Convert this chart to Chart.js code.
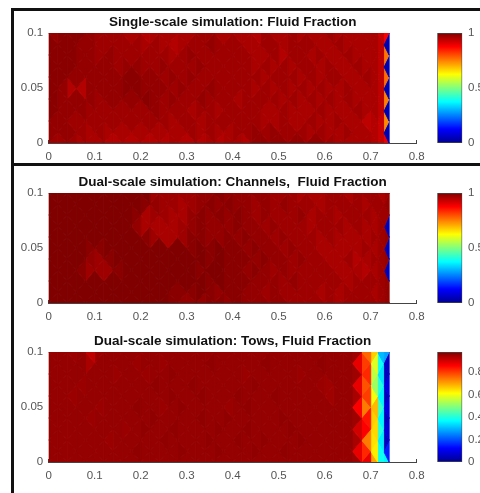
<!DOCTYPE html>
<html>
<head>
<meta charset="utf-8">
<title>Fluid fraction</title>
<script src="https://cdn.jsdelivr.net/npm/chart.js@4"></script>
<style>
    html, body { margin: 0; padding: 0; width: 480px; height: 493px; overflow: hidden; background: #fff; }
    #page { position: absolute; left: 0; top: 0; width: 480px; height: 493px; overflow: hidden; filter: blur(0.65px); }
    #page canvas { position: absolute; }
    .rule { position: absolute; background: #111; }
</style>
</head>
<body>
<div id="page">
    <div class="rule" style="left:11px;top:8px;width:469px;height:3px"></div>
    <div class="rule" style="left:11px;top:8px;width:3px;height:485px"></div>
    <div class="rule" style="left:11px;top:163px;width:469px;height:3px"></div>
    <canvas id="mesh1" style="left:0;top:10px"></canvas>
    <canvas id="bar1" style="left:430px;top:10px"></canvas>
    <canvas id="mesh2" style="left:0;top:169.5px"></canvas>
    <canvas id="bar2" style="left:430px;top:169.5px"></canvas>
    <canvas id="mesh3" style="left:0;top:329px"></canvas>
    <canvas id="bar3" style="left:430px;top:329px"></canvas>
</div>
<script>
// Axis ticks
const xTicks = [0, 0.1, 0.2, 0.3, 0.4, 0.5, 0.6, 0.7, 0.8];
const yTicks = [0, 0.05, 0.1];
const barTicksFull = [0, 0.5, 1];
const barTicksTows = [0, 0.2, 0.4, 0.6, 0.8];

// Mesh: vertical lines, then the two staggered sets of nodes along them
const xEdges = [0, 0.02, 0.04, 0.06, 0.08, 0.1, 0.12, 0.14, 0.16, 0.18, 0.2, 0.22, 0.24, 0.26, 0.28, 0.3, 0.32, 0.34,
    0.36, 0.38, 0.4, 0.42, 0.44, 0.46, 0.48, 0.5, 0.52, 0.54, 0.56, 0.58, 0.6, 0.62, 0.64, 0.66, 0.68, 0.7];
const tailSingle = [0.715, 0.728, 0.74];
const tailChannels = [0.715, 0.73, 0.74];
const tailTows = [0.715, 0.728, 0.74];
const evenNodes = [0, 0.02, 0.04, 0.06, 0.08, 0.1];
const oddNodes = [0, 0.01, 0.03, 0.05, 0.07, 0.09, 0.1];

// Fluid fraction in percent, top row first, one value per triangle per strip
const singleFluid = [
    [98,99,99,99,98,97,97,97,96,96, 95,96,96,96,96,96,97,97,96,96, 96,96,95,97,96,96,97,96,96,96, 97,96,96,96,96,96,93,88],
    [99,99,99,98,98,97,97,97,97,97, 96,97,96,95,96,97,97,98,97,97, 97,96,96,97,97,96,97,97,97,96, 96,97,96,96,96,96,94,4],
    [99,99,99,98,98,97,98,97,97,97, 97,97,97,96,97,98,97,97,97,97, 97,97,96,96,97,95,97,97,96,97, 96,96,97,96,96,96,94,76],
    [99,99,99,98,98,98,98,97,98,98, 97,97,98,97,97,97,98,97,97,97, 97,97,96,97,96,97,96,97,97,96, 97,96,96,97,96,96,94,4],
    [99,99,98,98,98,98,98,98,99,99, 98,98,97,98,97,98,97,97,97,97, 97,97,97,96,97,97,97,96,97,96, 97,97,96,96,97,96,94,77],
    [99,98,95,95,98,98,98,98,99,99, 98,98,98,97,98,97,97,98,97,97, 97,97,96,97,96,97,96,97,96,97, 96,96,97,96,96,96,94,4],
    [99,98,98,98,98,97,98,98,98,98, 99,98,97,98,97,97,98,97,97,97, 96,97,97,97,97,96,97,96,97,96, 97,96,97,96,96,96,94,75],
    [99,98,98,98,97,97,97,97,97,97, 97,98,97,97,97,96,97,97,96,97, 97,97,97,96,96,97,96,96,96,97, 96,96,96,97,96,96,94,4],
    [98,98,97,97,97,97,97,97,97,97, 97,97,97,96,97,97,96,97,97,97, 97,97,97,96,96,97,96,96,97,96, 96,97,96,96,94,95,93,74],
    [98,98,98,97,96,97,96,96,96,96, 96,96,96,96,96,97,96,97,96,96, 97,97,98,97,98,97,97,97,96,97, 96,96,97,96,96,95,93,4],
    [97,97,97,96,96,96,95,95,95,95, 95,95,95,96,95,95,95,96,95,96, 96,95,98,98,98,98,98,98,98,98, 97,96,96,96,96,95,93,89]
];
const channelFluid = [
    [100,100,100,100,100,100,100,100,100,100, 100,97,97,97,97,97,98,98,99,98, 98,98,98,98,97,97,97,96,96,96, 97,97,96,97,97,97,96,97],
    [100,100,100,100,100,100,100,100,100,100, 99,98,97,97,96,97,98,99,98,99, 98,98,97,98,97,98,97,97,97,96, 97,97,97,97,96,97,97,98],
    [100,100,100,100,100,100,100,100,100,99, 96,97,97,96,96,98,99,98,99,98, 99,98,97,98,97,97,97,98,96,97, 97,96,97,97,97,96,97,97],
    [100,100,100,100,100,100,100,100,100,98, 96,96,96,96,97,98,99,98,98,98, 99,98,98,97,98,97,97,97,96,97, 97,97,96,97,96,96,97,5],
    [100,100,100,100,100,100,100,100,100,100, 99,97,96,96,97,99,99,98,98,99, 98,99,98,98,97,98,97,97,97,96, 97,96,96,96,96,97,97,98],
    [100,100,100,100,99,99,100,100,100,100, 100,100,100,100,100,99,100,99,100,99, 99,98,99,98,98,97,98,97,97,96, 96,96,96,96,97,96,97,5],
    [100,100,100,100,98,97,99,100,100,100, 100,100,100,100,100,100,100,99,100,99, 99,99,98,99,98,98,97,98,97,97, 96,96,97,95,96,97,97,98],
    [100,100,100,99,97,97,97,99,100,100, 100,100,100,100,100,100,99,100,100,99, 99,98,99,98,97,98,97,97,97,97, 97,96,96,96,95,96,97,5],
    [100,100,100,100,100,100,100,100,100,100, 100,100,100,100,100,100,100,99,100,99, 99,99,98,98,98,97,98,97,97,97, 97,97,96,97,97,97,97,98],
    [100,100,100,100,100,100,100,100,100,100, 100,100,100,99,99,99,100,99,98,99, 99,98,98,97,98,97,97,97,97,96, 97,96,97,97,97,96,97,98],
    [100,100,100,100,100,100,100,100,100,100, 100,100,100,99,98,98,98,99,99,98, 99,98,98,98,98,98,97,97,97,97, 97,96,97,97,97,97,97,98]
];
const towFluid = [
    [96,96,95.5,96,92,95.5,96,96,96,96, 96,96,96,96,96,96,96,96,96,96, 96,96,96,96,96,96,96,96,96,96, 96,96,96, 95,76,66,30,28],
    [96,96,96,96,94,96,96,96,96,95.5, 96,96,95.5,96,96,96,96,96.5,96,96, 96,96,96,96.5,96,96,96,96,96,96.5, 96,96,96, 88,80,58,38,6],
    [96,96,96,96,96,96,96,95.5,96,96, 95.5,96,96,96.5,96,96,96,96,96,96, 96,95.5,96,96,96,96,96,95.5,96,96, 96,96,96, 95,82,55,34,5],
    [96,96,96,95.5,96,96,96,96,96,96, 96,96.5,96,96,96,96.5,96,96,96,96, 96,96,96.5,96,96,96,96,96,96,95.5, 95,96,96, 88,78,52,40,9],
    [96,96,95.5,96,96,96,96,96,96,96, 96,96,96,96.5,96,96,96.5,96,96,96, 96.5,96,96,96,96.5,96,96,96,96,96, 95,96,96, 94,80,60,36,5],
    [96,96,96,96,96,95.5,96,96,96,96.5, 96,96,95.5,96,96.5,96,96,96,96,95.5, 96,96.5,96,96,96,96,96,96,96,96, 96,96,96, 86,74,68,42,9],
    [96,96,96,96,95.5,96,96,96,96,96, 96,96.5,96,96,96,96,96.5,96,96,96.5, 96,96,96,96,96,96.5,96,96,96,96, 96,96,96, 95,84,66,36,5],
    [96,96,96,96,96,96,96,96,95.5,96, 96.5,96,96,96.5,96,96,96,96,96.5,96, 96,96.5,96,96,96,96,96.5,96,96,96, 96,96,96, 90,86,65,40,8],
    [96,96,96,96,96,96,95.5,96,96,96, 96,96,96.5,96,96,96,96,96.5,96,96, 96.5,96,96,96.5,96,96,96,96.5,96,96, 96,96,96, 94,74,64,35,5],
    [96,96,96,96,96,96,96,96,96,96.5, 96,96,96,96,96.5,96,96,96,96.5,96, 96,96,96.5,96,96,96.5,96,96,96,96, 96,96,96, 88,82,63,38,15],
    [96,96,96,96,96,96,96,96,96,96, 96,96,96,96,96,96,96,96,96,96, 96,96,96,96,96,96,96,96,96,96, 96,96,96, 95,88,70,38,36]
];

// Colorbar limits
const barMaxFull = 1;
const barMaxTows = 0.98;

// Jet colormap stops
const jetPositions = [0, 0.125, 0.375, 0.625, 0.875, 1];
const jetColors = [[0, 0, 143], [0, 0, 255], [0, 255, 255], [255, 255, 0], [255, 0, 0], [128, 0, 0]];

const fontFamily = "'Liberation Sans', Arial, sans-serif";
const tickColor = '#555';
const axisColor = '#444';

function jet(v) {
    const t = Math.max(0, Math.min(1, v));
    let i = 0;
    while (i < jetPositions.length - 2 && t > jetPositions[i + 1]) i++;
    const f = (t - jetPositions[i]) / (jetPositions[i + 1] - jetPositions[i]);
    const c = jetColors[i].map((a, n) => Math.round(a + (jetColors[i + 1][n] - a) * f));
    return `rgb(${c[0]},${c[1]},${c[2]})`;
}

// One closed line dataset per triangle
function buildTriangles(rows, tail, barMax) {
    const edges = xEdges.concat(tail);
    const last = edges.length - 2;
    const datasets = [];
    rows.forEach((row, r) => {
        const k = rows.length - 1 - r;
        row.forEach((value, j) => {
            // the even nodes sit on the right line of the last strip, then alternate
            const evenOnRight = (last - j) % 2 === 0;
            const xEven = evenOnRight ? edges[j + 1] : edges[j];
            const xOdd = evenOnRight ? edges[j] : edges[j + 1];
            let pts;
            if (k % 2 === 0) {
                const n = k / 2;
                pts = [{ x: xOdd, y: oddNodes[n] }, { x: xOdd, y: oddNodes[n + 1] }, { x: xEven, y: evenNodes[n] }];
            } else {
                const n = (k - 1) / 2;
                pts = [{ x: xEven, y: evenNodes[n] }, { x: xEven, y: evenNodes[n + 1] }, { x: xOdd, y: oddNodes[n + 1] }];
            }
            pts.push(pts[0]);
            const color = jet(value / 100 / barMax);
            datasets.push({
                data: pts,
                showLine: true,
                fill: 'shape',
                backgroundColor: color,
                borderColor: color,
                borderWidth: 1,
                pointRadius: 0,
                tension: 0
            });
        });
    });
    return datasets;
}

function createMesh(id, titleText, rows, tail, barMax) {
    const canvas = document.getElementById(id);
    canvas.width = 430;
    canvas.height = 153;
    canvas.style.width = '430px';
    canvas.style.height = '153px';

    new Chart(canvas, {
        type: 'scatter',
        data: { datasets: buildTriangles(rows, tail, barMax) },
        options: {
            responsive: false,
            animation: false,
            layout: { padding: { right: 13.3 } },
            plugins: {
                legend: { display: false },
                tooltip: { enabled: false },
                title: {
                    display: true,
                    text: titleText,
                    fullSize: false,
                    color: '#111',
                    font: { family: fontFamily, size: 13.5, weight: 'bold', lineHeight: 1.2 },
                    padding: { top: 4, bottom: 2.8 }
                }
            },
            scales: {
                x: {
                    type: 'linear',
                    min: 0,
                    max: 0.8,
                    afterFit: scale => {
                        scale.height = 20;
                        scale.paddingLeft = 0;
                        scale.paddingRight = 0;
                    },
                    afterBuildTicks: scale => { scale.ticks = xTicks.map(value => ({ value })); },
                    grid: { drawOnChartArea: false, tickLength: -3, color: axisColor },
                    border: { color: axisColor },
                    ticks: {
                        color: tickColor,
                        font: { family: fontFamily, size: 11.5 },
                        padding: 10,
                        maxRotation: 0,
                        autoSkip: false,
                        callback: value => value
                    }
                },
                y: {
                    type: 'linear',
                    min: 0,
                    max: 0.1,
                    afterFit: scale => {
                        scale.width = 48.7;
                        scale.paddingTop = 0;
                        scale.paddingBottom = 0;
                    },
                    afterBuildTicks: scale => { scale.ticks = yTicks.map(value => ({ value })); },
                    grid: { display: false, drawTicks: false },
                    border: { display: false },
                    ticks: {
                        color: tickColor,
                        font: { family: fontFamily, size: 11.5 },
                        padding: 5.5,
                        autoSkip: false,
                        callback: value => value
                    }
                }
            }
        }
    });
}

function createColorbar(id, barMax, tickValues) {
    const canvas = document.getElementById(id);
    canvas.width = 60;
    canvas.height = 153;
    canvas.style.width = '60px';
    canvas.style.height = '153px';

    new Chart(canvas, {
        type: 'bar',
        data: {
            labels: ['Fluid Fraction'],
            datasets: [{
                data: [[0, barMax]],
                barPercentage: 1,
                categoryPercentage: 1,
                borderColor: axisColor,
                borderWidth: 1,
                borderSkipped: false,
                backgroundColor: context => {
                    const area = context.chart.chartArea;
                    if (!area) return '#800000';
                    const gradient = context.chart.ctx.createLinearGradient(0, area.bottom, 0, area.top);
                    jetPositions.forEach((p, i) => {
                        gradient.addColorStop(p, `rgb(${jetColors[i].join(',')})`);
                    });
                    return gradient;
                }
            }]
        },
        options: {
            responsive: false,
            animation: false,
            layout: { padding: { left: 7.3, top: 23, bottom: 20 } },
            plugins: {
                legend: { display: false },
                tooltip: { enabled: false }
            },
            scales: {
                x: { display: false },
                y: {
                    position: 'right',
                    min: 0,
                    max: barMax,
                    afterFit: scale => {
                        scale.width = 27.7;
                        scale.paddingTop = 0;
                        scale.paddingBottom = 0;
                    },
                    afterBuildTicks: scale => { scale.ticks = tickValues.map(value => ({ value })); },
                    grid: { display: false, drawTicks: false },
                    border: { display: false },
                    ticks: {
                        color: tickColor,
                        font: { family: fontFamily, size: 11.5 },
                        padding: 5.7,
                        autoSkip: false,
                        callback: value => value
                    }
                }
            }
        }
    });
}

createMesh('mesh1', 'Single-scale simulation: Fluid Fraction', singleFluid, tailSingle, barMaxFull);
createColorbar('bar1', barMaxFull, barTicksFull);
createMesh('mesh2', 'Dual-scale simulation: Channels,  Fluid Fraction', channelFluid, tailChannels, barMaxFull);
createColorbar('bar2', barMaxFull, barTicksFull);
createMesh('mesh3', 'Dual-scale simulation: Tows, Fluid Fraction', towFluid, tailTows, barMaxTows);
createColorbar('bar3', barMaxTows, barTicksTows);
</script>
</body>
</html>
